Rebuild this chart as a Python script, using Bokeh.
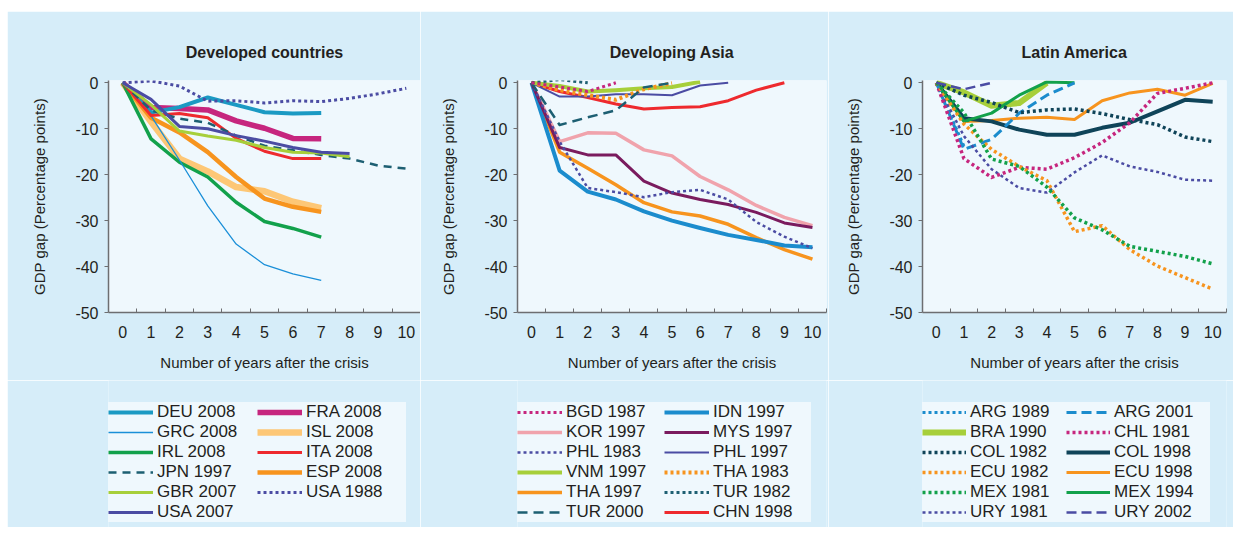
from bokeh.plotting import figure
from bokeh.models import Range1d, FixedTicker, Legend, LegendItem, Spacer
from bokeh.layouts import row, column
from bokeh.embed import file_html
from bokeh.resources import INLINE

# ---------------- data ----------------
years = list(range(11))
tick_labels = [str(i) for i in years]
y_ticks = [0, -10, -20, -30, -40, -50]
y_tick_labels = ["0", "-10", "-20", "-30", "-40", "-50"]

# Developed countries
DEU_2008 = [0, -6.5, -5.3, -3.2, -4.8, -6.4, -6.7, -6.6]
FRA_2008 = [0, -5.4, -5.6, -5.9, -8.3, -9.9, -12.1, -12.2]
GRC_2008 = [0, -7.2, -16.8, -26.8, -35.1, -39.6, -41.6, -43.0]
ISL_2008 = [0, -8.5, -16.5, -19.3, -22.7, -23.6, -25.9, -27.3]
IRL_2008 = [0, -12.2, -17.3, -20.5, -26.0, -30.2, -31.7, -33.6]
ITA_2008 = [0, -7.1, -6.7, -7.6, -12.1, -14.9, -16.5, -16.5]
JPN_1997 = [0, -6.0, -7.8, -8.7, -11.5, -13.7, -14.7, -15.7, -16.5, -18.0, -18.7]
ESP_2008 = [0, -7.6, -10.8, -15.1, -20.5, -25.2, -27.0, -28.1]
GBR_2007 = [0, -4.8, -10.5, -11.6, -12.5, -14.1, -15.1, -15.3, -16.1]
USA_1988 = [0, 0.4, -0.7, -4.0, -3.9, -4.4, -3.9, -4.1, -3.4, -2.4, -1.2]
USA_2007 = [0, -3.6, -9.5, -10.0, -11.5, -12.7, -14.1, -15.1, -15.4]

# Developing Asia
BGD_1987 = [0, -0.9, -1.9, 0.0]
KOR_1997 = [0, -12.8, -10.9, -11.0, -14.6, -15.9, -20.4, -23.3, -26.7, -29.3, -31.1]
PHL_1983 = [0, -12.8, -22.9, -23.8, -24.9, -23.8, -23.3, -25.4, -30.3, -33.5, -36.0]
VNM_1997 = [0, -0.7, -1.9, -1.6, -1.2, -0.9, 0.2]
THA_1997 = [0, -15.1, -18.6, -22.2, -26.1, -28.1, -29.0, -30.8, -33.7, -36.3, -38.4]
TUR_2000 = [0, -9.2, -7.5, -6.0, -1.0, 0.0]
IDN_1997 = [0, -19.1, -23.7, -25.4, -28.0, -30.0, -31.6, -33.1, -34.2, -35.4, -35.8]
MYS_1997 = [0, -14.1, -15.7, -15.7, -21.4, -24.0, -25.4, -26.5, -28.2, -30.5, -31.5]
PHL_1997 = [0, -3.0, -3.0, -2.5, -2.5, -2.7, -0.6, 0.0]
THA_1983 = [0, -1.6, -2.7, -3.7, -1.4, -0.1]
TUR_1982 = [0, 0.7, 0.0]
CHN_1998 = [0, -1.9, -3.2, -4.6, -5.7, -5.4, -5.2, -3.9, -1.6, 0.0]

# Latin America
ARG_1989 = [0, -13.8]
ARG_2001 = [0, -14.5, -12.3, -6.6, -2.7, 0.0]
BRA_1990 = [0, -2.1, -5.0, -4.4, 0.0]
CHL_1981 = [0, -16.5, -20.6, -18.4, -18.8, -16.3, -13.0, -8.7, -2.3, -1.2, 0.0]
COL_1982 = [0, -2.7, -4.3, -6.5, -5.9, -5.7, -6.7, -8.0, -9.1, -11.8, -12.8]
COL_1998 = [0, -7.7, -8.4, -10.2, -11.3, -11.3, -9.8, -8.7, -6.2, -3.7, -4.1]
ECU_1982 = [0, -9.0, -14.5, -18.2, -21.3, -32.4, -31.1, -36.3, -39.9, -42.4, -44.9]
ECU_1998 = [0, -8.4, -8.2, -7.7, -7.5, -8.0, -3.9, -2.2, -1.4, -2.7, -0.1]
MEX_1981 = [0, -6.5, -16.6, -18.2, -22.7, -29.4, -32.0, -35.6, -36.7, -37.8, -39.4]
MEX_1994 = [0, -8.4, -6.6, -2.7, 0.2, 0.0]
URY_1981 = [0, -11.6, -18.8, -22.9, -23.9, -19.5, -15.8, -18.2, -19.4, -21.1, -21.3]
URY_2002 = [0, -1.4, 0.0]

# ---------------- styles ----------------
OUTER = "#d6edf9"
INNER = "#eff8fd"
TXT = "#231f20"
AXC = "#6d6e71"
FONT = "Liberation Sans"

TEAL = "#1b9ac3"; MAG = "#c6267e"; BLUE = "#1a8fd8"; LORANGE = "#fdc776"
GREEN = "#12a14b"; RED = "#ee2a2e"; DTEAL = "#1d5f72"; ORANGE = "#f7941e"
LIME = "#a7cf3a"; INDIGO = "#4b4ca3"; PINK = "#f0a3ac"; PLUM = "#7a1b5e"
NAVY = "#0f4459"; IBLUE = "#1b8ccd"

DOT = "3 3"

dev_series = [  # (label, values, color, width, dash)
    ("DEU 2008", DEU_2008, TEAL, 4, "solid"),
    ("FRA 2008", FRA_2008, MAG, 5.5, "solid"),
    ("GRC 2008", GRC_2008, BLUE, 1.3, "solid"),
    ("ISL 2008", ISL_2008, LORANGE, 6.5, "solid"),
    ("IRL 2008", IRL_2008, GREEN, 3.5, "solid"),
    ("ITA 2008", ITA_2008, RED, 3, "solid"),
    ("JPN 1997", JPN_1997, DTEAL, 2.5, "8 6"),
    ("ESP 2008", ESP_2008, ORANGE, 4.5, "solid"),
    ("GBR 2007", GBR_2007, LIME, 3, "solid"),
    ("USA 1988", USA_1988, INDIGO, 3, DOT),
    ("USA 2007", USA_2007, INDIGO, 3, "solid"),
]
dev_draw = ["ISL 2008", "FRA 2008", "DEU 2008", "ESP 2008", "IRL 2008", "GRC 2008",
            "ITA 2008", "JPN 1997", "GBR 2007", "USA 2007", "USA 1988"]

asia_series = [
    ("BGD 1987", BGD_1987, MAG, 3, DOT),
    ("IDN 1997", IDN_1997, IBLUE, 4, "solid"),
    ("KOR 1997", KOR_1997, PINK, 3.5, "solid"),
    ("MYS 1997", MYS_1997, PLUM, 3, "solid"),
    ("PHL 1983", PHL_1983, INDIGO, 2.5, DOT),
    ("PHL 1997", PHL_1997, INDIGO, 2, "solid"),
    ("VNM 1997", VNM_1997, LIME, 4, "solid"),
    ("THA 1983", THA_1983, ORANGE, 4, DOT),
    ("THA 1997", THA_1997, ORANGE, 3.5, "solid"),
    ("TUR 1982", TUR_1982, DTEAL, 3, DOT),
    ("TUR 2000", TUR_2000, DTEAL, 2.5, "10 6"),
    ("CHN 1998", CHN_1998, RED, 3, "solid"),
]
asia_draw = ["KOR 1997", "THA 1997", "IDN 1997", "MYS 1997", "PHL 1983", "CHN 1998",
             "PHL 1997", "VNM 1997", "THA 1983", "TUR 2000", "TUR 1982", "BGD 1987"]

lat_series = [
    ("ARG 1989", ARG_1989, IBLUE, 3, DOT),
    ("ARG 2001", ARG_2001, IBLUE, 3, "10 5"),
    ("BRA 1990", BRA_1990, LIME, 6, "solid"),
    ("CHL 1981", CHL_1981, MAG, 3.5, DOT),
    ("COL 1982", COL_1982, NAVY, 3.5, DOT),
    ("COL 1998", COL_1998, NAVY, 4, "solid"),
    ("ECU 1982", ECU_1982, ORANGE, 3.5, DOT),
    ("ECU 1998", ECU_1998, ORANGE, 3, "solid"),
    ("MEX 1981", MEX_1981, GREEN, 3.5, DOT),
    ("MEX 1994", MEX_1994, GREEN, 3, "solid"),
    ("URY 1981", URY_1981, INDIGO, 2.5, DOT),
    ("URY 2002", URY_2002, INDIGO, 2.5, "10 5"),
]
lat_draw = ["BRA 1990", "ECU 1998", "COL 1998", "MEX 1994", "ARG 2001", "ARG 1989",
            "COL 1982", "URY 1981", "CHL 1981", "ECU 1982", "MEX 1981", "URY 2002"]

CHART_H = 369
LEG_H = 147


def make_panel(title, series, draw_order, width, left, right, leg_label_width,
               leg_glyph_width):
    # ---- chart ----
    p = figure(width=width, height=CHART_H, output_backend="svg",
               toolbar_location=None,
               x_range=Range1d(-0.5, 10.5), y_range=Range1d(-50, 0.5),
               min_border_left=left, min_border_right=right,
               min_border_top=69, min_border_bottom=CHART_H - 69 - 232)
    p.background_fill_color = INNER
    p.border_fill_color = OUTER
    p.outline_line_color = None
    p.grid.grid_line_color = None

    p.title.text = title
    p.title.align = "center"
    p.title.text_font = FONT
    p.title.text_font_size = "16px"
    p.title.text_font_style = "bold"
    p.title.text_color = TXT
    p.title.standoff = 39

    xa = p.xaxis[0]
    xa.ticker = FixedTicker(ticks=years, minor_ticks=[i + 0.5 for i in years])
    xa.major_label_overrides = {i: tick_labels[i] for i in years}
    xa.major_tick_line_color = None
    xa.minor_tick_in = 4
    xa.minor_tick_out = 0
    xa.minor_tick_line_color = AXC
    xa.axis_line_color = AXC
    xa.axis_line_width = 1.5
    xa.major_label_text_font = FONT
    xa.major_label_text_font_size = "16px"
    xa.major_label_text_color = TXT
    xa.major_label_standoff = 7
    xa.axis_label = "Number of years after the crisis"
    xa.axis_label_text_font = FONT
    xa.axis_label_text_font_size = "15px"
    xa.axis_label_text_font_style = "normal"
    xa.axis_label_text_color = TXT
    xa.axis_label_standoff = 13

    ya = p.yaxis[0]
    ya.ticker = FixedTicker(ticks=y_ticks)
    ya.major_label_overrides = dict(zip(y_ticks, y_tick_labels))
    ya.minor_tick_line_color = None
    ya.major_tick_in = 0
    ya.major_tick_out = 4
    ya.major_tick_line_color = AXC
    ya.axis_line_color = AXC
    ya.axis_line_width = 1.5
    ya.major_label_text_font = FONT
    ya.major_label_text_font_size = "16px"
    ya.major_label_text_color = TXT
    ya.major_label_standoff = 6
    ya.axis_label = "GDP gap (Percentage points)"
    ya.axis_label_text_font = FONT
    ya.axis_label_text_font_size = "15px"
    ya.axis_label_text_font_style = "normal"
    ya.axis_label_text_color = TXT
    ya.axis_label_standoff = 24

    lookup = {s[0]: s for s in series}
    for name in draw_order:
        lab, vals, col, w, dash = lookup[name]
        p.line(years[:len(vals)], vals, line_color=col, line_width=w,
               line_dash=dash, line_join="round")

    # ---- legend box (separate figure, series lines kept outside its view) ----
    q = figure(width=width, height=LEG_H, output_backend="svg",
               toolbar_location=None, x_axis_location=None, y_axis_location=None,
               x_range=Range1d(100, 101), y_range=Range1d(100, 101),
               min_border_left=left, min_border_right=right,
               min_border_top=0, min_border_bottom=0)
    q.background_fill_color = OUTER
    q.border_fill_color = OUTER
    q.outline_line_color = None
    q.grid.grid_line_color = None
    rend = {}
    for lab, vals, col, w, dash in series:
        rend[lab] = q.line(years[:len(vals)], vals, line_color=col, line_width=w,
                           line_dash=dash, line_join="round")
    ordered = series[0::2] + series[1::2]
    items = [LegendItem(label=s[0], renderers=[rend[s[0]]]) for s in ordered]
    leg = Legend(items=items, orientation="vertical", nrows=6, location=(0, 5))
    leg.background_fill_color = INNER
    leg.background_fill_alpha = 1
    leg.inactive_fill_alpha = 0
    leg.border_line_color = None
    leg.label_text_font = FONT
    leg.label_text_font_size = "17px"
    leg.label_text_color = TXT
    leg.glyph_width = leg_glyph_width
    leg.glyph_height = 20
    leg.label_height = 20
    leg.label_standoff = 4
    leg.label_width = leg_label_width
    leg.spacing = 0
    leg.padding = 7
    leg.margin = 0
    q.add_layout(leg, "center")
    return column(p, q, spacing=0)


c1 = make_panel("Developed countries", dev_series, dev_draw, 413, 101, 0, 100, 45)
c2 = make_panel("Developing Asia", asia_series, asia_draw, 408, 97, 2, 98, 45)
c3 = make_panel("Latin America", lat_series, lat_draw, 405, 94, 7, 96, 44)

layout = column(Spacer(height=11), row(Spacer(width=7), c1, c2, c3, spacing=0),
                spacing=0)
open("out.html", "w").write(file_html(layout, INLINE))
